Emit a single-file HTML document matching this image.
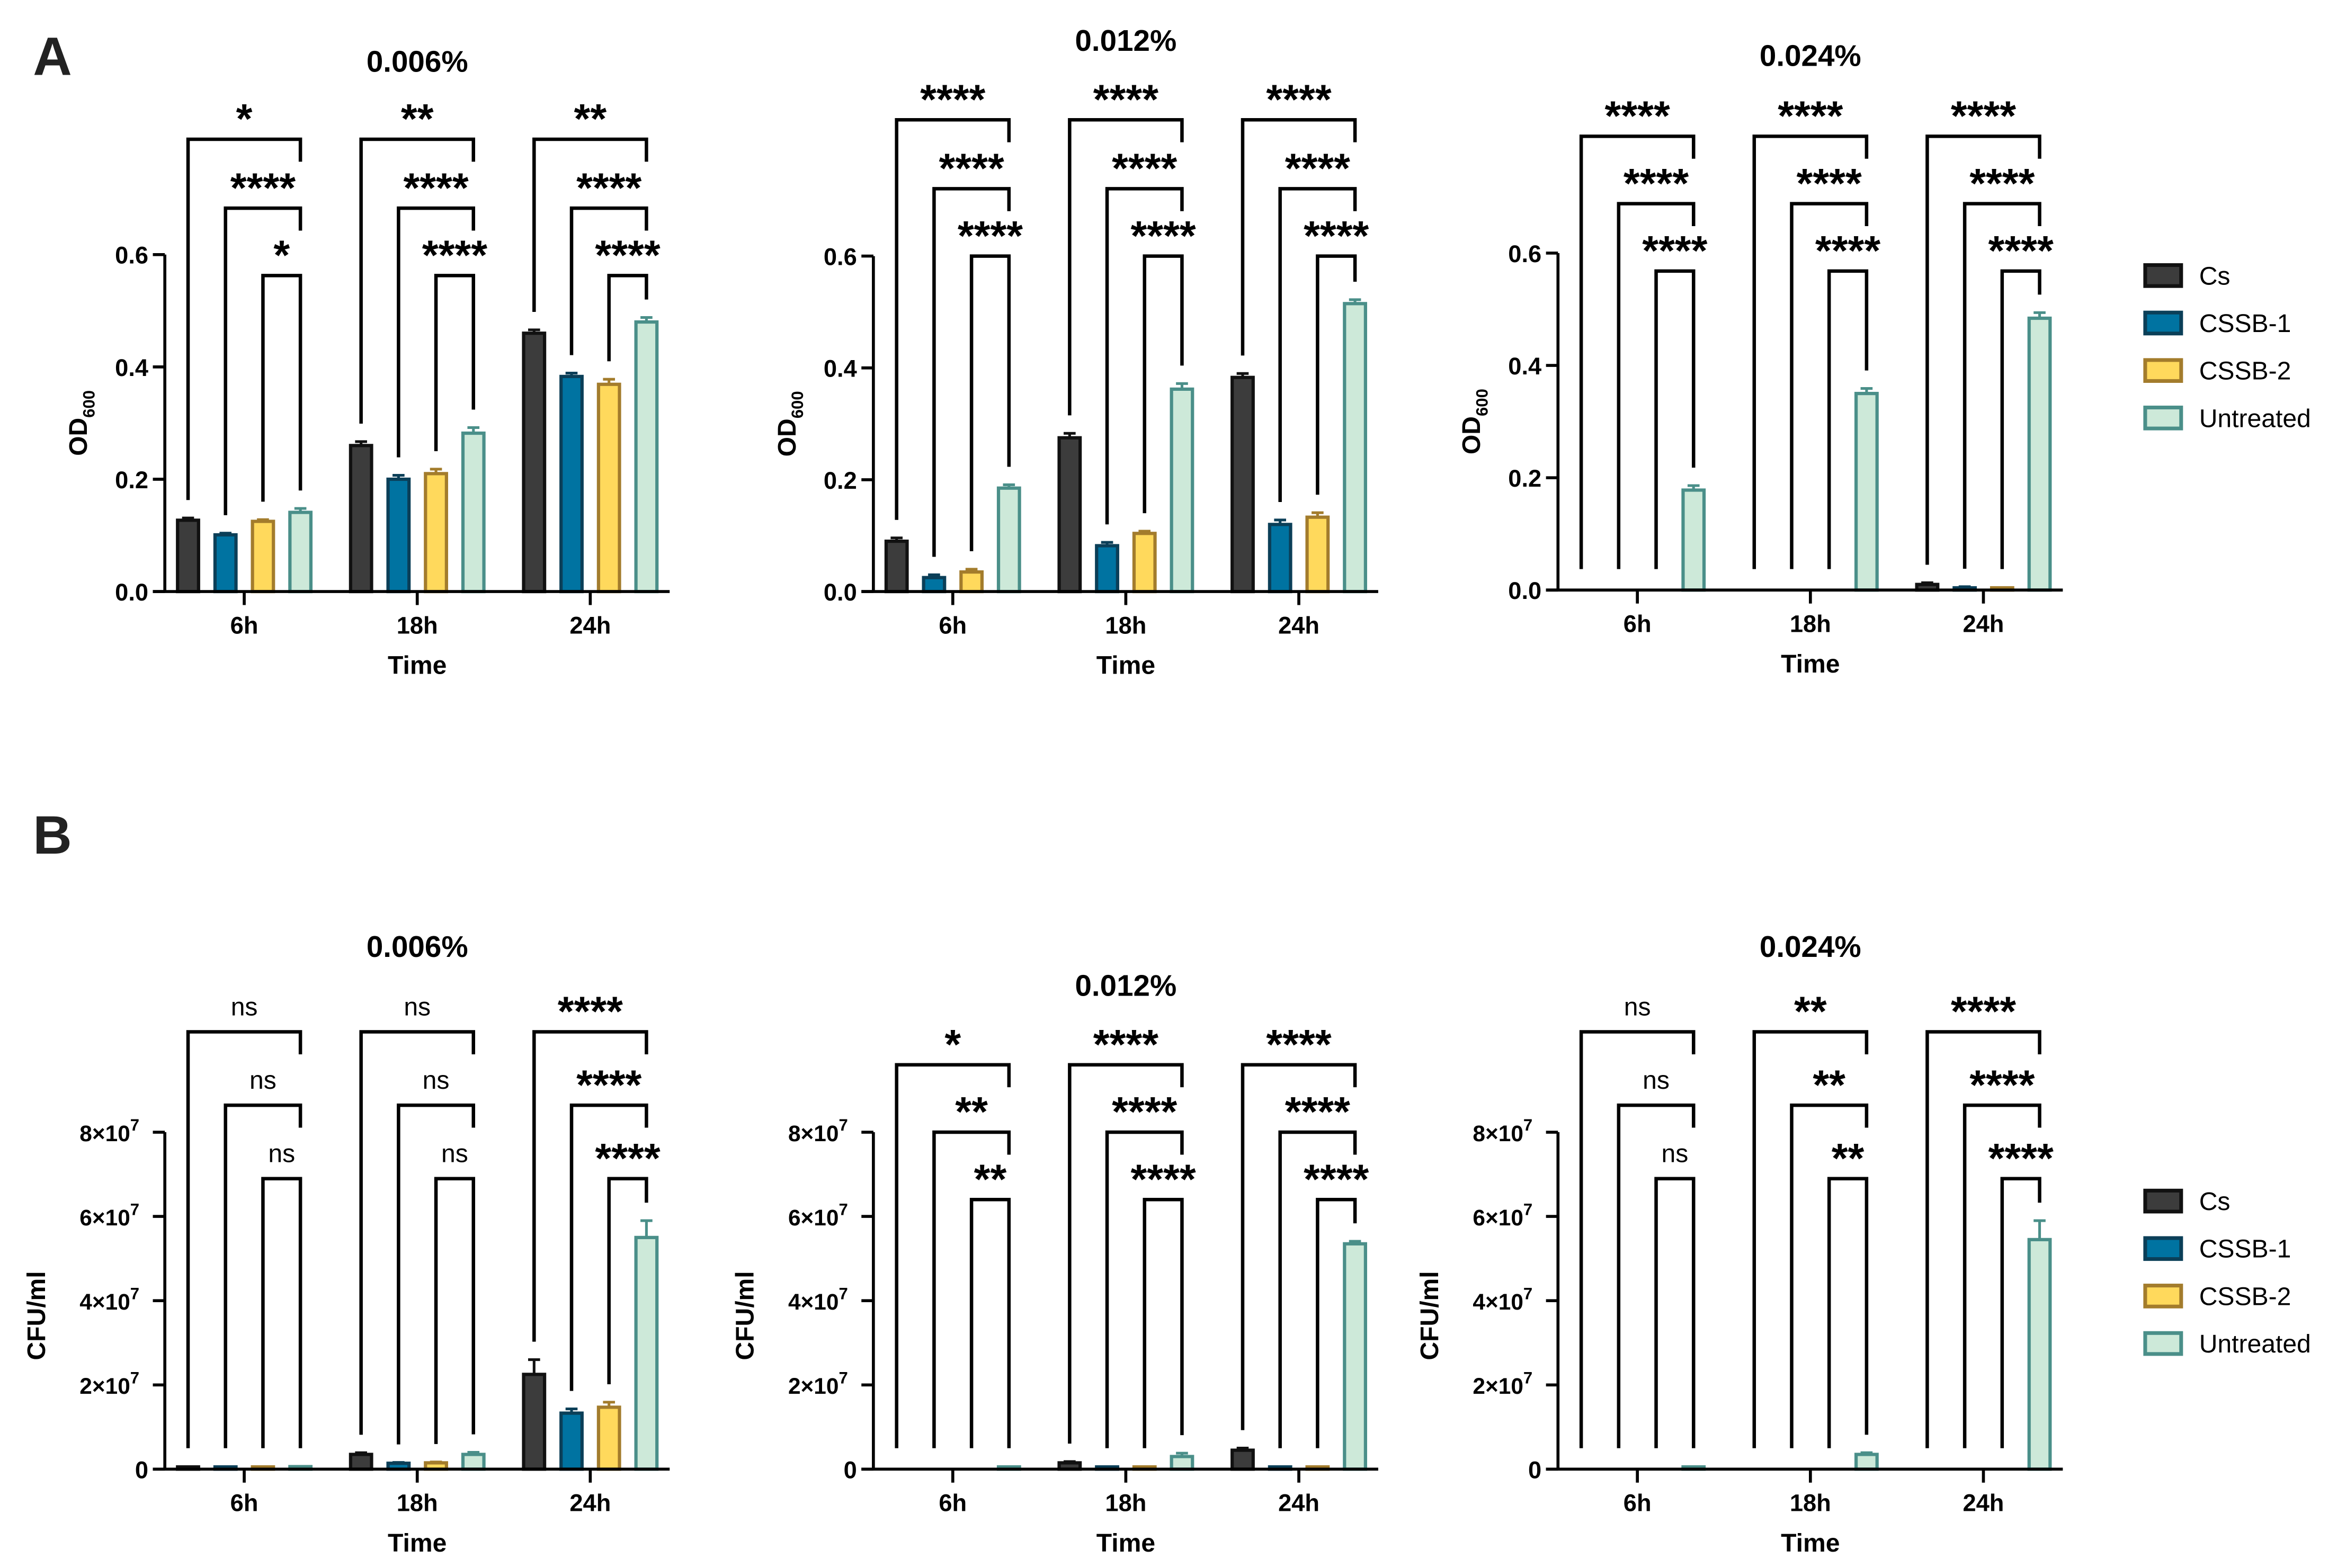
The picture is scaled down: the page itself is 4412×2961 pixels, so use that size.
<!DOCTYPE html>
<html><head><meta charset="utf-8"><style>
html,body{margin:0;padding:0;background:#fff}
svg{display:block}
text{font-family:"Liberation Sans",Arial,sans-serif}
</style></head><body>
<svg id="fig" xmlns="http://www.w3.org/2000/svg" width="4412" height="2961" viewBox="0 0 1560 1047">
<rect width="1560" height="1047" fill="#fff"/>
<text x="22" y="50" font-size="36" font-weight="bold" fill="#222">A</text>
<text x="22" y="570" font-size="36" font-weight="bold" fill="#222">B</text>
</svg>
<script>
const categories = ["6h","18h","24h"];
const seriesNames = ["Cs","CSSB-1","CSSB-2","Untreated"];
// OD600 values [category][series]
const odA006 = [[0.127,0.101,0.125,0.141],[0.260,0.200,0.210,0.282],[0.460,0.383,0.369,0.480]];
const odA006Err = [[0.004,0.003,0.003,0.007],[0.007,0.007,0.008,0.010],[0.006,0.006,0.009,0.008]];
const odA012 = [[0.090,0.025,0.035,0.185],[0.275,0.082,0.104,0.362],[0.383,0.120,0.133,0.515]];
const odA012Err = [[0.006,0.005,0.005,0.006],[0.008,0.006,0.004,0.010],[0.007,0.008,0.008,0.007]];
const odA024 = [[0,0,0,0.178],[0,0,0,0.350],[0.010,0.004,0.002,0.484]];
const odA024Err = [[0,0,0,0.008],[0,0,0,0.009],[0.003,0.002,0.001,0.010]];
// CFU/ml values in units of 1e7
const cfuB006 = [[0.02,0.02,0.05,0.06],[0.35,0.14,0.15,0.35],[2.25,1.33,1.47,5.50]];
const cfuB006Err = [[0,0,0,0],[0.04,0.02,0.02,0.05],[0.35,0.10,0.12,0.40]];
const cfuB012 = [[0,0,0,0.05],[0.15,0.02,0.02,0.30],[0.45,0.02,0.02,5.35]];
const cfuB012Err = [[0,0,0,0],[0.03,0,0,0.08],[0.05,0,0,0.06]];
const cfuB024 = [[0,0,0,0.05],[0,0,0,0.35],[0,0,0,5.45]];
const cfuB024Err = [[0,0,0,0],[0,0,0,0.04],[0,0,0,0.45]];
const odTicks = [0,0.2,0.4,0.6];
const odTickLabels = ["0.0","0.2","0.4","0.6"];
const cfuTicks = [0,2,4,6,8];
const cfuTickLabels = ["0","2","4","6","8"];
const sigA006 = [["*","****","*"],["**","****","****"],["**","****","****"]];
const sigA012 = [["****","****","****"],["****","****","****"],["****","****","****"]];
const sigA024 = [["****","****","****"],["****","****","****"],["****","****","****"]];
const sigB006 = [["ns","ns","ns"],["ns","ns","ns"],["****","****","****"]];
const sigB012 = [["*","**","**"],["****","****","****"],["****","****","****"]];
const sigB024 = [["ns","ns","ns"],["**","**","**"],["****","****","****"]];

const fills = ["#3c3c3c","#0073a1","#ffd95c","#cde9d9"];
const strokes = ["#111111","#0b3f58","#a37c2c","#4a8f89"];
const NS = "http://www.w3.org/2000/svg";
const svg = document.getElementById("fig");
function mk(tag, attrs, parent){const e=document.createElementNS(NS,tag);for(const k in attrs)e.setAttribute(k,attrs[k]);(parent||svg).appendChild(e);return e;}

function panel(cfg){
  const g = mk("g",{});
  
  
  const y = v => cfg.base - v/cfg.max*(cfg.base-cfg.top);
  const gx = i => cfg.ax + 53 + i*115.5;
  const t = mk("text",{x:gx(1),y:cfg.titleY,"font-size":20,"font-weight":"bold","text-anchor":"middle"},g);
  t.textContent = cfg.title;
  
  
  cfg.vals.forEach((row,ci)=>{
    row.forEach((v,si)=>{
      const cx = gx(ci) + (si-1.5)*25;
      const top = y(v), b = cfg.base;
      if(v>0){
        const r = mk("rect",{x:cx-7,y:Math.min(top,b-1.5),width:14,height:Math.max(b-top,1.5),fill:fills[si],stroke:strokes[si],"stroke-width":2.2},g);
        
        
      }
      const e = cfg.err[ci][si];
      if(e>0){
        const ey = y(v+e);
        mk("line",{x1:cx,x2:cx,y1:top,y2:ey,stroke:strokes[si],"stroke-width":1.8},g);
        const cap = mk("line",{x1:cx-4,x2:cx+4,y1:ey,y2:ey,stroke:strokes[si],"stroke-width":1.8},g);
        
        
      }
    });
    const bx = si => gx(ci) + (si-1.5)*25;
    const legEnd = si => Math.min(y(row[si]+cfg.err[ci][si]) - 12, cfg.base - 14);
    cfg.brY.forEach((by,k)=>{
      const lx = bx(k), rx = bx(3);
      const rEnd = k===2 ? legEnd(3) : by+15;
      const p = mk("path",{d:`M${lx},${legEnd(k)} V${by} H${rx} V${rEnd}`,fill:"none",stroke:"#000","stroke-width":2.3},g);
      
      
      const lab = cfg.sig[ci][k];
      const st = mk("text",{x:(lx+rx)/2,y: lab==="ns"? by-11 : by-4,"font-size":lab==="ns"?17:28,"font-weight":lab==="ns"?"normal":"bold","text-anchor":"middle"},g);
      st.textContent = lab;
      
      
    });
  });
  const ya = mk("line",{x1:cfg.ax,x2:cfg.ax,y1:cfg.base,y2:y(cfg.ticks[cfg.ticks.length-1]),stroke:"#000","stroke-width":2},g);
  
  
  const xa = mk("line",{x1:cfg.ax-8,x2:cfg.ax+337,y1:cfg.base,y2:cfg.base,stroke:"#000","stroke-width":2},g);
  
  
  cfg.ticks.forEach((tv,i)=>{
    const ty = y(tv);
    mk("line",{x1:cfg.ax-8,x2:cfg.ax,y1:ty,y2:ty,stroke:"#000","stroke-width":2},g);
    const tl = mk("text",{x:cfg.ax-11,y:ty+6,"font-size":16,"font-weight":"bold","text-anchor":"end"},g);
    
    
    if(cfg.cfu && cfg.tickLabels[i]!=="0"){
      tl.setAttribute("font-size",15);
      tl.textContent = cfg.tickLabels[i]+"×10";
      const sup = mk("tspan",{dy:-7,"font-size":11},tl); sup.textContent="7";
      tl.setAttribute("x",cfg.ax-17);
    } else tl.textContent = cfg.tickLabels[i];
  });
  categories.forEach((c,i)=>{
    mk("line",{x1:gx(i),x2:gx(i),y1:cfg.base,y2:cfg.base+9,stroke:"#000","stroke-width":2},g);
    const xl = mk("text",{x:gx(i),y:cfg.base+28,"font-size":16,"font-weight":"bold","text-anchor":"middle"},g);
    xl.textContent = c;
    
    
  });
  const xt = mk("text",{x:gx(1),y:cfg.base+55,"font-size":17,"font-weight":"bold","text-anchor":"middle"},g);
  xt.textContent = "Time";
  
  
  const yt = mk("text",{x:0,y:0,"font-size":17,"font-weight":"bold","text-anchor":"middle",transform:`translate(${cfg.ax-(cfg.cfu?80:52)},${(cfg.base+cfg.top)/2+ (cfg.cfu?10:0)}) rotate(-90)`},g);
  
  
  if(cfg.cfu) yt.textContent="CFU/ml";
  else { yt.textContent="OD"; const s=mk("tspan",{dy:5,"font-size":11},yt); s.textContent="600"; }
}

panel({name:"chart-a-0.006",title:"0.006%",titleY:48,ax:110,base:395,top:170,max:0.6,ticks:odTicks,tickLabels:odTickLabels,vals:odA006,err:odA006Err,sig:sigA006,brY:[93,139,184]});
panel({name:"chart-a-0.012",title:"0.012%",titleY:34,ax:583,base:395,top:171,max:0.6,ticks:odTicks,tickLabels:odTickLabels,vals:odA012,err:odA012Err,sig:sigA012,brY:[80,126,171]});
panel({name:"chart-a-0.024",title:"0.024%",titleY:44,ax:1040,base:394,top:169,max:0.6,ticks:odTicks,tickLabels:odTickLabels,vals:odA024,err:odA024Err,sig:sigA024,brY:[91,136,181]});
panel({name:"chart-b-0.006",title:"0.006%",titleY:639,ax:110,base:981,top:756,max:8,cfu:true,ticks:cfuTicks,tickLabels:cfuTickLabels,vals:cfuB006,err:cfuB006Err,sig:sigB006,brY:[689,738,787]});
panel({name:"chart-b-0.012",title:"0.012%",titleY:665,ax:583,base:981,top:756,max:8,cfu:true,ticks:cfuTicks,tickLabels:cfuTickLabels,vals:cfuB012,err:cfuB012Err,sig:sigB012,brY:[711,756,801]});
panel({name:"chart-b-0.024",title:"0.024%",titleY:639,ax:1040,base:981,top:756,max:8,cfu:true,ticks:cfuTicks,tickLabels:cfuTickLabels,vals:cfuB024,err:cfuB024Err,sig:sigB024,brY:[689,738,787]});

function legend(y0,name){
  const g = mk("g",{});
  
  
  seriesNames.forEach((s,i)=>{
    const yy = y0 + i*31.7;
    const r = mk("rect",{x:1432,y:yy-7,width:24,height:14,fill:fills[i],stroke:strokes[i],"stroke-width":2.5},g);
    
    
    const t = mk("text",{x:1468,y:yy+6,"font-size":17},g);
    t.textContent = s;
    
    
  });
}
legend(184,"legend-a");
legend(802,"legend-b");
</script>
</body></html>
